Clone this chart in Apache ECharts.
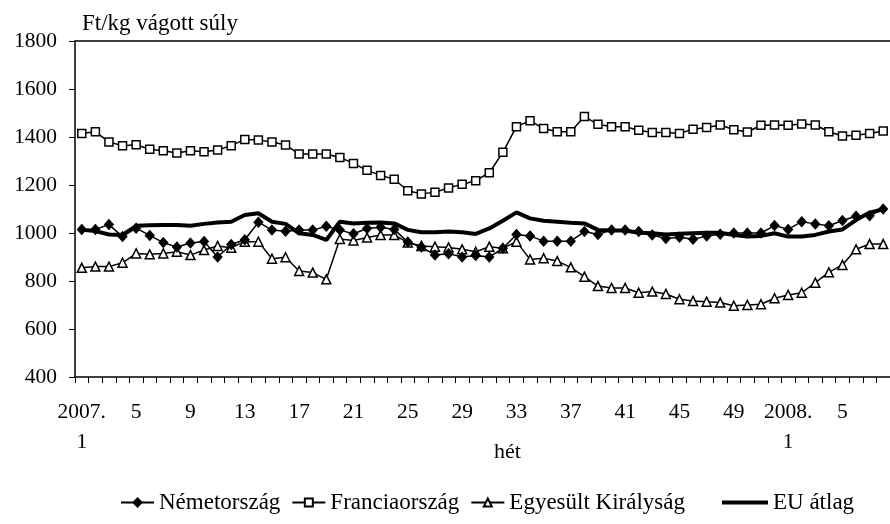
<!DOCTYPE html>
<html>
<head>
<meta charset="utf-8">
<script src="https://cdn.jsdelivr.net/npm/echarts@6/dist/echarts.min.js"></script>
<style>html,body{margin:0;padding:0;background:#fff;}#c{width:890px;height:524px;}</style>
</head>
<body>
<div id="c"></div>
<script>
var categories = ["2007.\n1","2","3","4","5","6","7","8","9","10","11","12","13","14","15","16","17","18","19","20",
"21","22","23","24","25","26","27","28","29","30","31","32","33","34","35","36","37","38","39","40",
"41","42","43","44","45","46","47","48","49","50","51","52","2008.\n1","2","3","4","5","6","7","8"];

var nemetorszag = [1015,1015,1035,985,1020,990,960,942,958,965,900,952,972,1045,1012,1007,1012,1012,1028,1012,
997,1019,1024,1015,962,942,908,914,900,906,900,936,994,988,966,966,966,1006,994,1013,
1013,1006,992,977,982,974,987,995,1000,1000,1000,1031,1015,1047,1038,1030,1052,1070,1072,1100];

var franciaorszag = [1415,1422,1379,1364,1368,1349,1343,1333,1343,1339,1346,1364,1390,1388,1379,1367,1329,1329,1329,1315,
1290,1261,1240,1224,1176,1163,1170,1188,1203,1218,1251,1336,1443,1468,1435,1422,1422,1485,1453,1443,
1443,1428,1419,1419,1415,1432,1440,1450,1430,1421,1449,1450,1449,1454,1450,1422,1404,1407,1415,1425];

var egyesultKiralysag = [855,860,860,876,915,911,915,922,908,929,946,939,964,964,893,899,842,835,807,975,
969,981,992,992,960,946,943,940,932,922,943,936,964,890,895,883,857,818,779,771,
771,751,756,746,724,717,714,710,697,700,703,728,742,751,793,836,867,932,954,954];

var euAtlag = [1013,1008,994,992,1030,1032,1033,1033,1030,1038,1044,1047,1075,1082,1047,1038,999,992,971,1047,
1040,1043,1044,1040,1013,1003,1003,1006,1003,996,1019,1051,1086,1061,1051,1047,1043,1040,1013,1010,
1010,1001,999,994,997,999,1001,1001,992,985,988,999,985,985,992,1006,1015,1054,1085,1099];

var seriesNames = ["Németország","Franciaország","Egyesült Királyság","EU átlag"];
var yTicks = {min:400, max:1800, interval:200};

var FONT = "Liberation Serif";
var chart = echarts.init(document.getElementById('c'), null, {renderer:'canvas'});
var legendTxt = {fontFamily:FONT, fontSize:23, color:'#000'};

chart.setOption({
  animation:false,
  backgroundColor:'#fff',
  title:{text:'Ft/kg vágott súly', left:77, top:7, textStyle:{fontFamily:FONT, fontSize:23, fontWeight:'normal', color:'#000'}},
  grid:{left:75, top:41, width:818, bottom:147, containLabel:false},
  graphic:[{type:'text', left:494, top:441, style:{text:'hét', font:'22px "Liberation Serif"', fill:'#000'}}],
  legend:[{
    data:seriesNames.slice(0,3), left:115, top:486, itemWidth:33, itemHeight:10, itemGap:11,
    textStyle:legendTxt
  },{
    data:[{name:seriesNames[3], icon:'rect'}], left:717, top:486, itemWidth:46, itemHeight:4,
    textStyle:legendTxt
  }],
  xAxis:[{
    type:'category', data:categories, boundaryGap:true,
    axisLine:{lineStyle:{color:'#000', width:1.5}},
    axisTick:{show:true, interval:0, length:6, lineStyle:{color:'#000', width:1}},
    axisLabel:{interval:3, margin:20, fontFamily:FONT, fontSize:21.5, color:'#000', lineHeight:30},
    splitLine:{show:false}
  },{
    type:'category', data:categories, position:'top', boundaryGap:true,
    axisLine:{show:true, lineStyle:{color:'#000', width:1.5}},
    axisTick:{show:false}, axisLabel:{show:false}, splitLine:{show:false}
  }],
  yAxis:{
    type:'value', min:yTicks.min, max:yTicks.max, interval:yTicks.interval,
    axisLine:{show:true, lineStyle:{color:'#000', width:1.5}},
    axisTick:{show:true, length:6, lineStyle:{color:'#000', width:1}},
    axisLabel:{margin:18, fontFamily:FONT, fontSize:21.5, color:'#000', formatter:function(v){return String(v);}},
    splitLine:{show:false}
  },
  series:[{
    name:seriesNames[0], type:'line', data:nemetorszag, z:4,
    symbol:'diamond', symbolSize:[9,10], showAllSymbol:true,
    lineStyle:{color:'#000', width:1.5}, itemStyle:{color:'#000', borderColor:'#000', borderWidth:1}
  },{
    name:seriesNames[1], type:'line', data:franciaorszag, z:3,
    symbol:'rect', symbolSize:8, showAllSymbol:true,
    lineStyle:{color:'#000', width:1.5}, itemStyle:{color:'#fff', borderColor:'#000', borderWidth:1.5}
  },{
    name:seriesNames[2], type:'line', data:egyesultKiralysag, z:3,
    symbol:'triangle', symbolSize:9, showAllSymbol:true,
    lineStyle:{color:'#000', width:1.5}, itemStyle:{color:'#fff', borderColor:'#000', borderWidth:1.5}
  },{
    name:seriesNames[3], type:'line', data:euAtlag, z:2,
    symbol:'none', showSymbol:false,
    lineStyle:{color:'#000', width:4}, itemStyle:{color:'#000'}
  }]
});
</script>
</body>
</html>
